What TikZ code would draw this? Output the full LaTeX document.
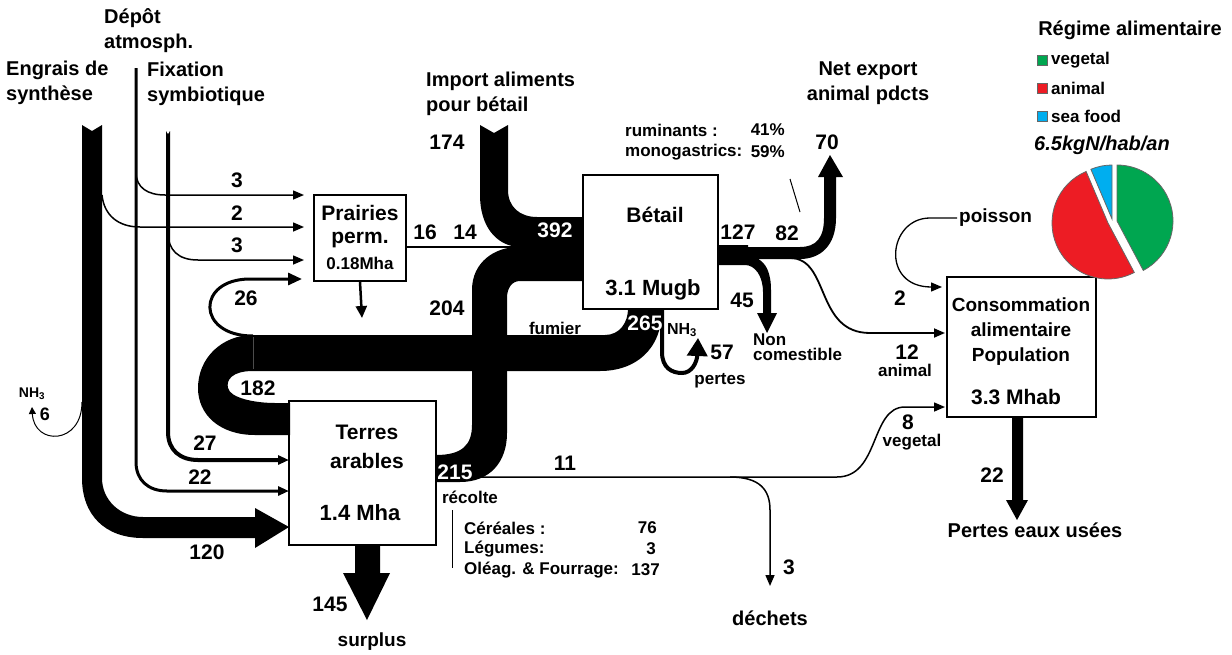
\documentclass[tikz,border=0pt]{standalone}
\usepackage{fontspec}
\setmainfont{Liberation Sans}
\usetikzlibrary{arrows.meta}
\definecolor{vert}{HTML}{00A650}
\definecolor{rouge}{HTML}{ED1C24}
\definecolor{bleu}{HTML}{00AEEF}

\tikzset{
  boite/.style={draw, line width=2pt, fill=white, inner sep=0pt},
  num/.style={font=\fontsize{21}{24}\selectfont\bfseries, inner sep=0pt},
  tit/.style={font=\fontsize{20}{25}\selectfont\bfseries, align=left, inner sep=0pt},
  petit/.style={font=\fontsize{17}{15}\selectfont\bfseries, align=left, inner sep=0pt},
  table/.style={font=\fontsize{17}{17}\selectfont\bfseries, inner sep=0pt},
  fil/.style={line width=1.5pt},
  fleche/.style={-{Triangle[length=11pt,width=9pt]}},
  part/.style={draw=black!60, line width=0.8pt}
}

\begin{document}
\begin{tikzpicture}[x=1pt,y=-1pt]
    \useasboundingbox (0,0) rectangle (1232,654);

    % Boites
    \node[boite, minimum width=92pt, minimum height=86pt] (prairies) at (360,238) {};
    \node[boite, minimum width=135pt, minimum height=134pt] (betail) at (650.5,242) {};
    \node[boite, minimum width=147pt, minimum height=144pt] (terres) at (362.5,473) {};
    \node[boite, minimum width=149pt, minimum height=140pt] (conso) at (1021.5,347) {};

    % Engrais de synthese
    \fill (82,125) -- (92,131) -- (102,125) -- (102,478)
        .. controls (102,500) and (120,517) .. (143,517) -- (255,517) -- (255,508)
        -- (289,527) -- (255,548) -- (255,538) -- (143,538)
        .. controls (105,538) and (82,515) .. (82,478) -- cycle;
    \draw[fil, fleche] (102,195) .. controls (104,215) and (118,227) .. (140,227) -- (304,227);
    \draw[line width=1pt, -{Triangle[length=7pt,width=7pt]}] (82,402) .. controls (82,445) and (34,446) .. (32,407);

    % Depot atmospherique
    \draw[line width=3pt, fleche] (136,68) -- (136,462) .. controls (136,480) and (148,491) .. (167,491) -- (289,491);
    \draw[fil, fleche] (136,172) .. controls (136,188) and (148,195) .. (165,195) -- (304,195);

    % Fixation symbiotique
    \draw[line width=4pt, fleche] (168,131) -- (168,432) .. controls (168,450) and (180,460) .. (198,460) -- (289,460);
    \fill[white] (165.5,130) -- (168,134) -- (170.5,130) -- cycle;
    \draw[fil, fleche] (168,232) .. controls (168,250) and (178,260) .. (198,260) -- (304,260);

    % Fumier et retour 182
    \fill (253,335) -- (605,335) .. controls (620,335) and (628,322) .. (628,309) -- (662,309)
        .. controls (662,350) and (635,371) .. (600,371) -- (253,371)
        .. controls (232,371) and (226,380) .. (228,388) .. controls (230,398) and (255,403) .. (275,403)
        -- (290,403) -- (290,435) -- (255,435) .. controls (220,435) and (198,415) .. (198,388)
        .. controls (198,358) and (222,335) .. (253,335) -- cycle;
    \draw[black!70, line width=0.4pt] (253,337) -- (253,369);
    \draw[line width=3pt, -{Triangle[length=14pt,width=12pt]}] (253,336) .. controls (196,336) and (196,279) .. (250,279) -- (302,279);

    % Recolte, 204 et import vers betail
    \fill (436,455) .. controls (462,455) and (472,445) .. (472,425) -- (472,290)
        .. controls (472,262) and (495,247) .. (518,247)
        .. controls (495,245) and (480,225) .. (480,195) -- (480,125) -- (494,133) -- (508,125)
        -- (508,190) .. controls (508,207) and (520,217) .. (537,217) -- (583,217) -- (583,281)
        -- (520,281) .. controls (512,281) and (507,288) .. (507,298) -- (507,433)
        .. controls (507,462) and (490,482) .. (460,482) -- (436,482) -- cycle;
    \draw[line width=2pt] (prairies.east |- 0,247) -- (518,247);
    \draw[line width=2.5pt, -{Triangle[length=12pt,width=11pt]}] (prairies.south) -- (362,318);

    % Sorties betail
    \fill (718,245) -- (748,245) -- (748,247) -- (800,247)
        .. controls (816,247) and (824,238) .. (824,218) -- (824,177) -- (818,177) -- (830,155)
        -- (843,177) -- (836,177) -- (836,218) .. controls (836,246) and (820,259) .. (800,259)
        -- (758,259) .. controls (766,263) and (771,273) .. (771,290) -- (771,313) -- (777,313)
        -- (767,333) -- (757,313) -- (763,313) -- (763,292) .. controls (763,276) and (755,265) .. (745,265)
        -- (718,265) -- cycle;
    \draw[line width=1.8pt, fleche] (790,258) .. controls (830,258) and (815,333) .. (870,333) -- (945,333);
    \draw[line width=1pt] (790,179) -- (800,212);
    \draw[line width=4pt, -{Triangle[length=18pt,width=20pt]}] (662,309) -- (662,352)
        .. controls (662,368) and (672,373) .. (682,373) .. controls (692,373) and (697,362) .. (698,338);

    % Recolte vers population et dechets
    \draw[fil, fleche] (480,477) -- (837,477) .. controls (880,477) and (870,407) .. (905,407) -- (945,407);
    \draw[fil, fleche] (730,477) .. controls (760,477) and (770,490) .. (770,510) -- (770,586);
    \draw[line width=1pt] (452,510) -- (452,568);

    % Surplus et pertes eaux
    \fill (355,546) -- (380,546) -- (380,573) -- (390,573) -- (367,620) -- (343,573) -- (355,573) -- cycle;
    \fill (1012,418) -- (1023,418) -- (1023,500) -- (1028,500) -- (1017,520) -- (1006,500) -- (1012,500) -- cycle;

    % Poisson
    \draw[line width=1.3pt, fleche] (957,218) -- (930,218) .. controls (888,218) and (880,287) .. (942,287);

    % Camembert
    \filldraw[fill=vert, part] (1117,221) -- ++(62:56) arc[start angle=62, end angle=-90, radius=56] -- cycle;
    \filldraw[fill=rouge, part] (1108,223) -- ++(-113:56) arc[start angle=-113, end angle=-298, radius=56] -- cycle;
    \filldraw[fill=bleu, part] (1112,219) -- ++(-90:54) arc[start angle=-90, end angle=-113, radius=54] -- cycle;
    \filldraw[fill=vert, part] (1037,55) rectangle (1047,65);
    \filldraw[fill=rouge, part] (1037,83) rectangle (1047,93);
    \filldraw[fill=bleu, part] (1037,111) rectangle (1047,121);

    % Titres
    \node[tit, anchor=west] (tEngrais) at (6,83) {Engrais de\\synthèse};
    \node[tit, anchor=west] (tDepot) at (104,31) {Dépôt\\atmosph.};
    \node[tit, anchor=west] (tFix) at (147,84) {Fixation\\symbiotique};
    \node[tit, anchor=west] (tImport) at (426,94) {Import aliments\\pour bétail};
    \node[tit, align=center] (tExport) at (868,83) {Net export\\animal pdcts};
    \node[tit] (tRegime) at (1130,30) {Régime alimentaire};
    \node[tit, font=\fontsize{17}{17}\selectfont\bfseries, anchor=west] (lVeg) at (1051,60) {vegetal};
    \node[tit, font=\fontsize{17}{17}\selectfont\bfseries, anchor=west] (lAni) at (1051,88) {animal};
    \node[tit, font=\fontsize{17}{17}\selectfont\bfseries, anchor=west] (lSea) at (1051,116) {sea food};
    \node[tit, font=\fontsize{20}{20}\selectfont\bfseries\itshape, anchor=west] (tKg) at (1034,145) {6.5kgN/hab/an};
    \node[tit, font=\fontsize{19}{19}\selectfont\bfseries, anchor=west] (tPoisson) at (959,218) {poisson};
    \node[tit] (tEaux) at (1035,530) {Pertes eaux usées};
    \node[tit] (tDechets) at (770,618) {déchets};
    \node[tit, font=\fontsize{19}{19}\selectfont\bfseries] (tSurplus) at (372,642) {surplus};

    % Textes des boites
    \node[num] (tPrai1) at (360,213) {Prairies};
    \node[num] (tPrai2) at (360,240) {perm.};
    \node[num, font=\fontsize{17}{17}\selectfont\bfseries] (tPrai3) at (360,263) {0.18Mha};
    \node[num] (tBet1) at (655,215) {Bétail};
    \node[num, font=\fontsize{22}{22}\selectfont\bfseries] (tBet2) at (653,290) {3.1 Mugb};
    \node[num] (tTer1) at (367,432) {Terres};
    \node[num] (tTer2) at (367,461) {arables};
    \node[num, font=\fontsize{22}{22}\selectfont\bfseries] (tTer3) at (360,513) {1.4 Mha};
    \node[num, font=\fontsize{19}{25}\selectfont\bfseries, align=center] (tCons) at (1021,332) {Consommation\\alimentaire\\Population};
    \node[num] (tCons2) at (1016,397) {3.3 Mhab};

    % Valeurs
    \node[num] (v3a) at (237,180) {3};
    \node[num] (v2a) at (237,213) {2};
    \node[num] (v3b) at (237,245) {3};
    \node[num] (v26) at (246,298) {26};
    \node[num] (v182) at (258,388) {182};
    \node[num] (v27) at (205,443) {27};
    \node[num] (v22a) at (200,477) {22};
    \node[num] (v120) at (207,552) {120};
    \node[num] (v145) at (330,604) {145};
    \node[num, font=\fontsize{18}{18}\selectfont\bfseries] (v6) at (45,414) {6};
    \node[petit, font=\fontsize{14}{14}\selectfont\bfseries] (nh3a) at (32,394) {NH\textsubscript{3}};
    \node[num] (v16) at (425,232) {16};
    \node[num] (v14) at (465,232) {14};
    \node[num] (v174) at (447,142) {174};
    \node[num, text=white] (v392) at (555,230) {392};
    \node[num] (v204) at (447,308) {204};
    \node[num, text=white] (v265) at (645,323) {265};
    \node[num, text=white] (v215) at (455,472) {215};
    \node[num] (v11) at (565,463) {11};
    \node[num] (v127) at (738,232) {127};
    \node[num] (v82) at (787,233) {82};
    \node[num] (v70) at (827,142) {70};
    \node[num] (v45) at (742,300) {45};
    \node[num] (v57) at (722,352) {57};
    \node[num] (v2b) at (900,298) {2};
    \node[num] (v12) at (907,352) {12};
    \node[num] (v8) at (908,422) {8};
    \node[num] (v3c) at (789,567) {3};
    \node[num] (v22b) at (992,475) {22};

    % Petits textes
    \node[petit] (pFumier) at (555,328) {fumier};
    \node[petit] (pRecolte) at (470,497) {récolte};
    \node[petit, font=\fontsize{16}{16}\selectfont\bfseries] (nh3b) at (682,330) {NH\textsubscript{3}};
    \node[petit] (pPertes) at (720,381) {pertes};
    \node[petit, anchor=west] (pNonCom) at (753,347) {Non\\comestible};
    \node[petit] (pAnimal) at (905,370) {animal};
    \node[petit] (pVegetal) at (912,442) {vegetal};
    \node[table, anchor=west] (pRum) at (625,130) {ruminants :};
    \node[table, anchor=east] (pRumV) at (785,130) {41\%};
    \node[table, anchor=west] (pMono) at (625,152) {monogastrics:};
    \node[table, anchor=east] (pMonoV) at (785,152) {59\%};
    \node[table, anchor=west] (pCer) at (464,528) {Céréales :};
    \node[table, anchor=east] (pCerV) at (657,528) {76};
    \node[table, anchor=west] (pLeg) at (464,549) {Légumes:};
    \node[table, anchor=east] (pLegV) at (656,549) {3};
    \node[table, anchor=west] (pOle) at (464,570) {Oléag. \& Fourrage:};
    \node[table, anchor=east] (pOleV) at (660,570) {137};
\end{tikzpicture}
\end{document}
